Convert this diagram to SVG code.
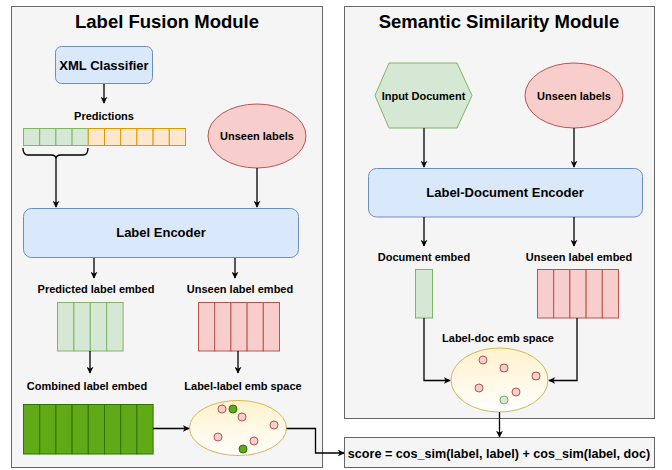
<svg xmlns="http://www.w3.org/2000/svg" width="672" height="470" viewBox="0 0 672 470">
  <defs>
    <marker id="arrow" viewBox="0 0 10 10" refX="9" refY="5" markerWidth="7" markerHeight="7" markerUnits="userSpaceOnUse" orient="auto">
      <path d="M0,0 L10,5 L0,10 L3,5 Z" fill="#000"/>
    </marker>
    <linearGradient id="spaceFill" x1="0" y1="0" x2="0" y2="1">
      <stop offset="0" stop-color="#fff2cc"/>
      <stop offset="1" stop-color="#ffffff"/>
    </linearGradient>
    <style>
      text { font-family: "Liberation Sans", Arial, sans-serif; font-weight: bold; fill: #000; text-anchor: middle; }
      .panel { fill: #f5f5f5; stroke: #666666; stroke-width: 1; }
      .title { font-size: 18.5px; }
      .lbl { font-size: 11px; }
      .node { font-size: 13px; }
      .formula { font-size: 12.6px; }
      .blue { fill: #dae8fc; stroke: #6c8ebf; stroke-width: 1; }
      .green { fill: #d5e8d4; stroke: #82b366; stroke-width: 1; }
      .red { fill: #f8cecc; stroke: #b85450; stroke-width: 1; }
      .orange { fill: #ffe6cc; stroke: #d79b00; stroke-width: 1; }
      .dark { fill: #60a917; stroke: #2d7600; stroke-width: 1; }
      .space { fill: url(#spaceFill); stroke: #d6b656; stroke-width: 1; }
      .edge { fill: none; stroke: #000; stroke-width: 1.3; marker-end: url(#arrow); }
      .brace { fill: none; stroke: #000; stroke-width: 1.3; }
    </style>
  </defs>

  <!-- Module panels -->
  <g id="label-fusion-module">
    <rect class="panel" x="11.5" y="6.5" width="311" height="461"/>
    <text class="title" x="167" y="28">Label Fusion Module</text>
  </g>
  <g id="semantic-similarity-module">
    <rect class="panel" x="344.5" y="6.5" width="310" height="412"/>
    <text class="title" x="499" y="28">Semantic Similarity Module</text>
  </g>

  <!-- Label fusion nodes -->
  <g id="xml-classifier">
    <rect class="blue" x="55.5" y="46.5" width="97" height="37" rx="6"/>
    <text class="node" x="104" y="69.5">XML Classifier</text>
  </g>

  <g id="predictions">
    <text class="lbl" x="104" y="120">Predictions</text>
    <rect class="green" x="23.5" y="128.5" width="16.2" height="17"/>
    <rect class="green" x="39.7" y="128.5" width="16.2" height="17"/>
    <rect class="green" x="55.9" y="128.5" width="16.2" height="17"/>
    <rect class="green" x="72.1" y="128.5" width="16.2" height="17"/>
    <rect class="orange" x="88.3" y="128.5" width="16.2" height="17"/>
    <rect class="orange" x="104.5" y="128.5" width="16.2" height="17"/>
    <rect class="orange" x="120.7" y="128.5" width="16.2" height="17"/>
    <rect class="orange" x="136.9" y="128.5" width="16.2" height="17"/>
    <rect class="orange" x="153.1" y="128.5" width="16.2" height="17"/>
    <rect class="orange" x="169.3" y="128.5" width="16.2" height="17"/>
  </g>

  <g id="top-predictions-brace">
    <path class="brace" d="M23,148 Q23,155 28,155 L51,155 Q56,155 56,159 Q56,155 61,155 L83,155 Q88,155 88,148"/>
  </g>

  <g id="unseen-labels-left">
    <ellipse class="red" cx="257" cy="136" rx="49" ry="32"/>
    <text class="lbl" x="257" y="140">Unseen labels</text>
  </g>

  <g id="label-encoder">
    <rect class="blue" x="23.5" y="208.5" width="275" height="49" rx="8"/>
    <text class="node" x="161" y="237">Label Encoder</text>
  </g>

  <g id="predicted-label-embed">
    <text class="lbl" x="96" y="293">Predicted label embed</text>
    <rect class="green" x="57.5" y="302.5" width="16.4" height="48.5"/>
    <rect class="green" x="73.9" y="302.5" width="16.4" height="48.5"/>
    <rect class="green" x="90.3" y="302.5" width="16.4" height="48.5"/>
    <rect class="green" x="106.7" y="302.5" width="16.4" height="48.5"/>
  </g>

  <g id="unseen-label-embed-left">
    <text class="lbl" x="240" y="293">Unseen label embed</text>
    <rect class="red" x="198.5" y="302.5" width="16.2" height="48.5"/>
    <rect class="red" x="214.7" y="302.5" width="16.2" height="48.5"/>
    <rect class="red" x="230.9" y="302.5" width="16.2" height="48.5"/>
    <rect class="red" x="247.1" y="302.5" width="16.2" height="48.5"/>
    <rect class="red" x="263.3" y="302.5" width="16.2" height="48.5"/>
  </g>

  <g id="combined-label-embed">
    <text class="lbl" x="87" y="390">Combined label embed</text>
    <rect class="dark" x="23.5" y="404.5" width="16.2" height="49.5"/>
    <rect class="dark" x="39.7" y="404.5" width="16.2" height="49.5"/>
    <rect class="dark" x="55.9" y="404.5" width="16.2" height="49.5"/>
    <rect class="dark" x="72.1" y="404.5" width="16.2" height="49.5"/>
    <rect class="dark" x="88.3" y="404.5" width="16.2" height="49.5"/>
    <rect class="dark" x="104.5" y="404.5" width="16.2" height="49.5"/>
    <rect class="dark" x="120.7" y="404.5" width="16.2" height="49.5"/>
    <rect class="dark" x="136.9" y="404.5" width="16.2" height="49.5"/>
  </g>

  <g id="label-label-space">
    <text class="lbl" x="243" y="390">Label-label emb space</text>
    <ellipse class="space" cx="238" cy="428" rx="48.5" ry="27.5"/>
    <circle class="red" cx="222" cy="409" r="4"/>
    <circle class="dark" cx="233" cy="409" r="4"/>
    <circle class="red" cx="242" cy="417" r="4"/>
    <circle class="red" cx="274" cy="425" r="4"/>
    <circle class="red" cx="218" cy="437" r="4"/>
    <circle class="red" cx="254" cy="441" r="4"/>
    <circle class="dark" cx="243" cy="449" r="4"/>
  </g>

  <!-- Semantic similarity nodes -->
  <g id="input-document">
    <polygon class="green" points="375,95.5 389,63 457,63 472,95.5 457,128 389,128"/>
    <text class="lbl" x="423.5" y="99.5">Input Document</text>
  </g>

  <g id="unseen-labels-right">
    <ellipse class="red" cx="574" cy="95.5" rx="49" ry="32.5"/>
    <text class="lbl" x="574" y="99.5">Unseen labels</text>
  </g>

  <g id="label-document-encoder">
    <rect class="blue" x="368.5" y="168.5" width="274" height="48.5" rx="8"/>
    <text class="node" x="505" y="196.5">Label-Document Encoder</text>
  </g>

  <g id="document-embed">
    <text class="lbl" x="424" y="261">Document embed</text>
    <rect class="green" x="415.5" y="269.5" width="17" height="48.5"/>
  </g>

  <g id="unseen-label-embed-right">
    <text class="lbl" x="579" y="261">Unseen label embed</text>
    <rect class="red" x="537.5" y="269.5" width="16.2" height="48.5"/>
    <rect class="red" x="553.7" y="269.5" width="16.2" height="48.5"/>
    <rect class="red" x="569.9" y="269.5" width="16.2" height="48.5"/>
    <rect class="red" x="586.1" y="269.5" width="16.2" height="48.5"/>
    <rect class="red" x="602.3" y="269.5" width="16.2" height="48.5"/>
  </g>

  <g id="label-doc-space">
    <text class="lbl" x="498" y="342">Label-doc emb space</text>
    <ellipse class="space" cx="499.5" cy="380" rx="48.5" ry="32"/>
    <circle class="red" cx="483" cy="360" r="4"/>
    <circle class="red" cx="504" cy="368" r="4"/>
    <circle class="red" cx="536" cy="376" r="4"/>
    <circle class="red" cx="479" cy="388" r="4"/>
    <circle class="red" cx="516" cy="392" r="4"/>
    <circle class="green" cx="504" cy="400" r="4"/>
  </g>

  <g id="score">
    <rect class="panel" x="344.5" y="437.5" width="310" height="30"/>
    <text class="formula" x="499" y="457.5">score = cos_sim(label, label) + cos_sim(label, doc)</text>
  </g>

  <!-- Connectors -->
  <g id="connectors">
    <path class="edge" d="M104,84 L104,103"/>
    <path class="edge" d="M56,159 L56,207"/>
    <path class="edge" d="M257,168 L257,207"/>
    <path class="edge" d="M94,258 L94,278"/>
    <path class="edge" d="M235,258 L235,278"/>
    <path class="edge" d="M90,351 L90,373"/>
    <path class="edge" d="M238,351 L238,373"/>
    <path class="edge" d="M153,428.5 L189,428.5"/>
    <path class="edge" d="M286.5,428.5 L315.5,428.5 L315.5,453 L344,453"/>
    <path class="edge" d="M424,128 L424,167"/>
    <path class="edge" d="M574,128 L574,167"/>
    <path class="edge" d="M424,217 L424,246"/>
    <path class="edge" d="M574,217 L574,246"/>
    <path class="edge" d="M424,318 L424,380.5 L450,380.5"/>
    <path class="edge" d="M577,318 L577,380.5 L549,380.5"/>
    <path class="edge" d="M499.5,412 L499.5,437"/>
  </g>
</svg>
